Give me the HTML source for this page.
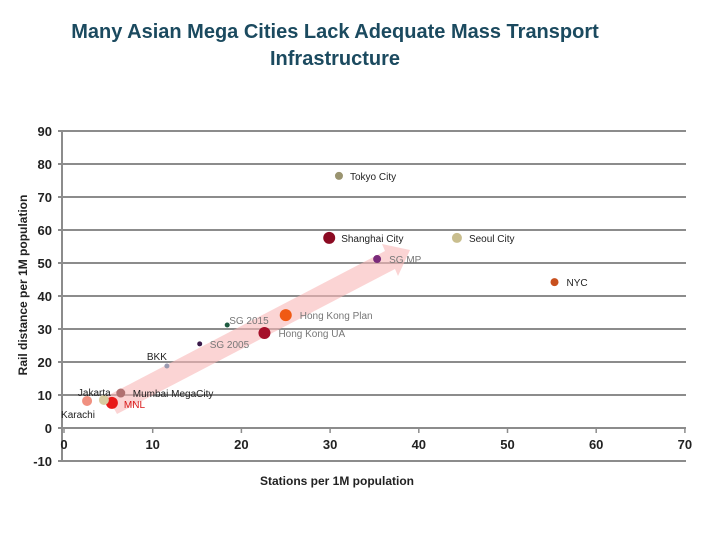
<!DOCTYPE html>
<html><head><meta charset="utf-8"><style>
body{margin:0;background:#fff;width:720px;height:540px;overflow:hidden}
svg{font-family:"Liberation Sans",sans-serif}
</style></head><body>
<svg id="c" width="720" height="540">
<text x="335" y="38" text-anchor="middle" font-size="20" font-weight="bold" fill="#1b4a5f">Many Asian Mega Cities Lack Adequate Mass Transport</text>
<text x="335" y="65" text-anchor="middle" font-size="20" font-weight="bold" fill="#1b4a5f">Infrastructure</text>
<g id="grid"></g>
<g id="arrow"></g>
<g id="pts"></g>
<text transform="translate(27,285) rotate(-90)" text-anchor="middle" font-size="12" font-weight="bold" fill="#222">Rail distance per 1M population</text>
<text x="337" y="485" text-anchor="middle" font-size="12" font-weight="bold" fill="#222">Stations per 1M population</text>
</svg>
<script>
const yTicks=[90,80,70,60,50,40,30,20,10,0,-10];
const xTicks=[0,10,20,30,40,50,60,70];
const names=["Tokyo City","Shanghai City","Seoul City","SG MP","NYC","Hong Kong Plan","Hong Kong UA","SG 2015","SG 2005","BKK","Mumbai MegaCity","MNL","Jakarta","Karachi"];
const xs=[31.0,29.9,44.3,35.3,55.3,25.0,22.6,18.4,15.3,11.6,6.4,5.4,4.5,2.6];
const ys=[76.4,57.6,57.6,51.2,44.2,34.2,28.8,31.2,25.5,18.8,10.6,7.6,8.5,8.2];
const colors=["#9a9470","#8b0a22","#c9be8e","#7a2a7a","#c8501e","#f05a14","#a5102a","#1e5a40","#3a1a4a","#9a9ab0","#b07070","#e81818","#d8cca0","#f09080"];
const sizes=[4,6,5,4,4,6,6,2.5,2.5,2.5,4.5,6,5,5];
const labelDx=[11,12,12,12,12,14,14,2,10,-20,12,12,-26,-26];
const labelDy=[4,4,4,4,4,4,4,-1,4,-6,4,5,-4,17];
const labelColors=["#222","#222","#222","#777","#222","#777","#777","#777","#777","#222","#222","#d81818","#222","#222"];
const X=v=>64+v*8.87, Y=v=>428-v*3.3;
const ns="http://www.w3.org/2000/svg";
const mk=(t,a,p)=>{const e=document.createElementNS(ns,t);for(const k in a)e.setAttribute(k,a[k]);p.appendChild(e);return e;};
const g=document.getElementById('grid');
yTicks.forEach(t=>{
 const l=mk('line',{x1:58,x2:686,y1:Y(t),y2:Y(t),stroke:'#8c8c8c','stroke-width':2},g);
 
 
 const tx=mk('text',{x:52,y:Y(t)+5,'text-anchor':'end','font-size':13,'font-weight':'bold',fill:'#222'},g);tx.textContent=t;
 
 
});
mk('line',{x1:62,x2:62,y1:Y(90),y2:Y(-10),stroke:'#8c8c8c','stroke-width':2},g);
xTicks.forEach(t=>{
 mk('line',{x1:X(t),x2:X(t),y1:Y(0),y2:Y(0)+5,stroke:'#8c8c8c','stroke-width':1.5},g);
 const tx=mk('text',{x:X(t),y:449,'text-anchor':'middle','font-size':13,'font-weight':'bold',fill:'#222'},g);tx.textContent=t;
 
 
});
const a=document.getElementById('arrow');
const ar=mk('polygon',{points:"107,396 385,251 382,244 410,250 398,276 395,269 117,414",fill:'#f8b8b8',opacity:0.6},a);


const p=document.getElementById('pts');
names.forEach((n,i)=>{
 const c=mk('circle',{cx:X(xs[i]),cy:Y(ys[i]),r:sizes[i],fill:colors[i]},p);
 
 
 const t=mk('text',{x:X(xs[i])+labelDx[i],y:Y(ys[i])+labelDy[i],'font-size':10,fill:labelColors[i]},p);t.textContent=n;
 
 
});
</script>
</body></html>
